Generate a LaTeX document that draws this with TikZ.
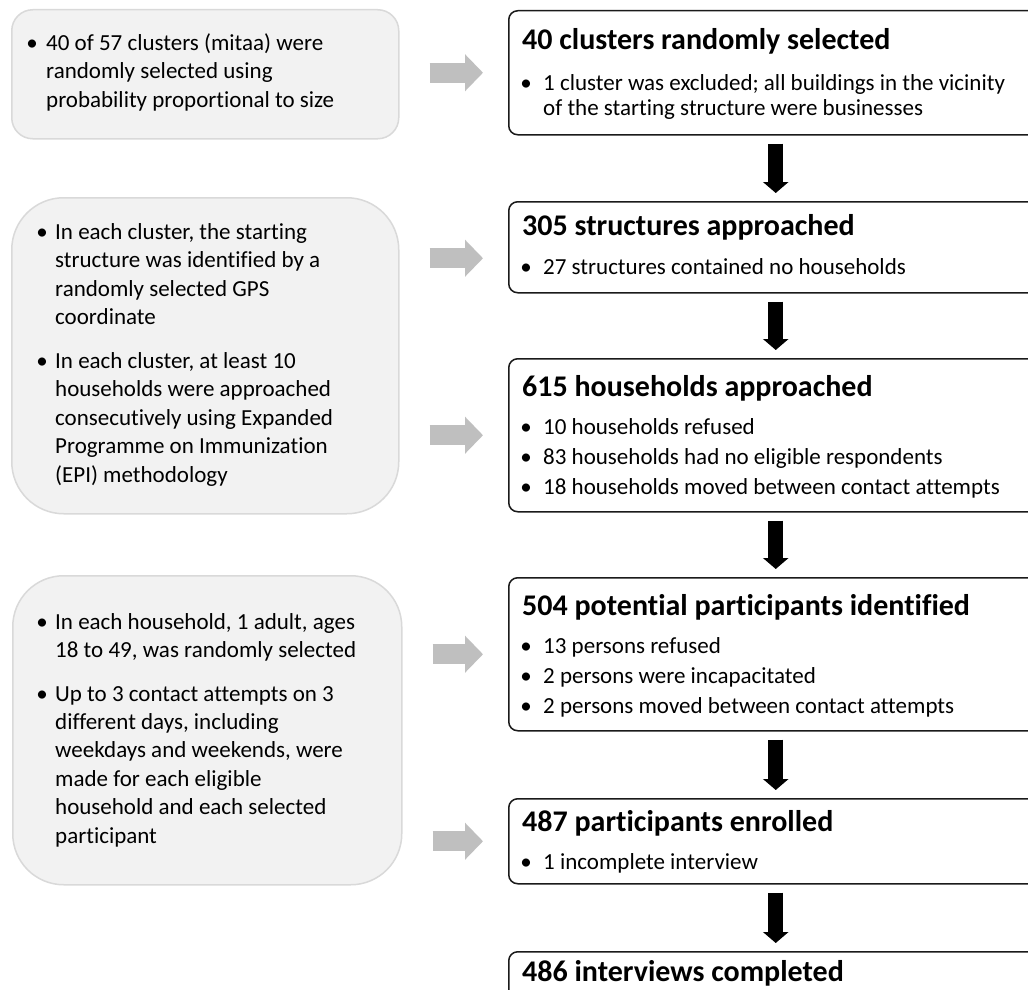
\documentclass[tikz,border=0pt]{standalone}
\usepackage{fontspec}
\setmainfont{Carlito}[Ligatures=NoCommon]
\usetikzlibrary{arrows.meta, positioning}
\definecolor{cgrey}{HTML}{BFBFBF}
\definecolor{cpanel}{HTML}{F2F2F2}
\definecolor{cedge}{HTML}{D9D9D9}
\definecolor{cink}{HTML}{1A1A1A}
\newcommand{\bul}[1]{\llap{\makebox[#1][c]{\textbullet}}}
\tikzset{
  every picture/.style={x=1pt, y=-1pt},
  panel/.style={draw=cedge, fill=cpanel, line width=1.5pt, rounded corners=#1, anchor=north west, minimum width=387},
  stage/.style={draw=cink, fill=white, line width=1.5pt, rounded corners=9pt, anchor=north west, minimum width=534},
  head/.style={font=\fontsize{30}{34}\selectfont\bfseries, anchor=base west, inner sep=0pt},
  item/.style={font=\fontsize{23}{25}\selectfont, anchor=base west, align=left, inner sep=0pt},
  note/.style={font=\fontsize{23}{28.4}\selectfont, anchor=base west, align=left, inner sep=0pt},
  down/.style={-{Triangle[width=25pt, length=11pt]}, draw=black, line width=15pt, shorten <=8pt, shorten >=8pt},
  side/.style={-{Triangle[width=36pt, length=18pt]}, draw=cgrey, line width=20pt, shorten <=30pt, shorten >=25pt},
}

\begin{document}
\begin{tikzpicture}
  \useasboundingbox[fill=white] (0,0) rectangle (1028,990);
  \clip (0,0) rectangle (1028,990);

  \node[panel=21pt, minimum height=129] (l1) at (11,9) {};
  \node[panel=52pt, minimum height=316] (l2) at (11,197) {};
  \node[panel=51pt, minimum height=309, minimum width=389] (l3) at (12,575) {};

  % anchored on the baseline of the last line
  \node[note] (n1) at (46,107) {\bul{28pt}40 of 57 clusters (mitaa) were\\ randomly selected using\\ probability proportional to size};
  \node[note] (n2) at (55,482) {\bul{26pt}In each cluster, the starting\\ structure was identified by a\\ randomly selected GPS\\ coordinate\\[15.5pt]
    \bul{26pt}In each cluster, at least 10\\ households were approached\\ consecutively using Expanded\\ Programme on Immunization\\ (EPI) methodology};
  \node[note] (n3) at (55,843) {\bul{26pt}In each household, 1 adult, ages\\ 18 to 49, was randomly selected\\[15pt]
    \bul{26pt}Up to 3 contact attempts on 3\\ different days, including\\ weekdays and weekends, were\\ made for each eligible\\ household and each selected\\ participant};

  \node[stage, minimum height=124] (r1) at (508,10) {};
  \node[stage, minimum height=91] (r2) at (508,201) {};
  \node[stage, minimum height=153] (r3) at (508,358) {};
  \node[stage, minimum height=153] (r4) at (508,577) {};
  \node[stage, minimum height=85] (r5) at (508,798) {};
  \node[stage, minimum height=80] (r6) at (508,951) {};

  \node[head] (h1) at (522,49) {40 clusters randomly selected};
  \node[head] (h2) at (522,235) {305 structures approached};
  \node[head] (h3) at (522,396) {615 households approached};
  \node[head] (h4) at (522,615) {504 potential participants identified};
  \node[head] (h5) at (522,831) {487 participants enrolled};
  \node[head] (h6) at (522,981) {486 interviews completed};

  \node[item] (i1) at (543,115) {\bul{34pt}1 cluster was excluded; all buildings in the vicinity\\ of the starting structure were businesses};
  \node[item] (i2) at (543,274) {\bul{34pt}27 structures contained no households};
  \node[item] (i3) at (543,494) {\bul{34pt}10 households refused\\[5pt] \bul{34pt}83 households had no eligible respondents\\[5pt] \bul{34pt}18 households moved between contact attempts};
  \node[item] (i4) at (543,713) {\bul{34pt}13 persons refused\\[5pt] \bul{34pt}2 persons were incapacitated\\[5pt] \bul{34pt}2 persons moved between contact attempts};
  \node[item] (i5) at (543,869) {\bul{34pt}1 incomplete interview};

  \foreach \i [count=\j from 2] in {1,...,5}
    \draw[down] (r\i) -- (r\j);

  \coordinate (g2) at ([yshift=-11pt]r2.west);
  \draw[side] (l1.east |- r1.west) -- (r1.west);
  \draw[side] (l2.east |- g2) -- (g2);
  \draw[side] (l2.east |- r3.west) -- (r3.west);
  \draw[side] (l3.east |- r4.west) -- (r4.west);
  \draw[side] (l3.east |- r5.west) -- (r5.west);
\end{tikzpicture}
\end{document}
